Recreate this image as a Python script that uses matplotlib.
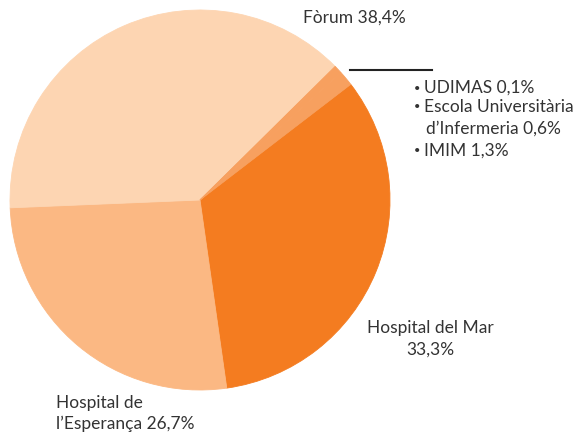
import matplotlib.pyplot as plt

plt.rcParams['font.family'] = ['Lato', 'DejaVu Sans']

labels = ['Hospital del Mar', "Hospital de l'Esperança", 'Fòrum', 'UDIMAS', 'Escola Universitària', 'IMIM']
values = [33.3, 26.7, 38.4, 0.1, 0.6, 1.3]
colors = ['#f47c20', '#fbb883', '#fdd5b2', '#f7a05f', '#f7a05f', '#f7a05f']

W, H = 585, 434
fig = plt.figure(figsize=(W / 100, H / 100), dpi=100)

# pie centred at (200, 200) px, radius 190 px
cx, cy, r = 200, 200, 190
ax = fig.add_axes([(cx - r) / W, (H - cy - r) / H, 2 * r / W, 2 * r / H])
wedges, _ = ax.pie(values, colors=colors, startangle=37.5, counterclock=False,
                   wedgeprops=dict(linewidth=0.6))
for w in wedges:
    w.set_edgecolor(w.get_facecolor())
ax.set_xlim(-1, 1)
ax.set_ylim(-1, 1)
ax.set_aspect('equal')
ax.axis('off')

txt = '#333333'
fs = 12.5


def px(x, y):
    return x / W, 1 - y / H


fig.text(*px(303, 18), 'Fòrum 38,4%', color=txt, fontsize=fs, va='center', ha='left')
fig.text(*px(430, 328), 'Hospital del Mar', color=txt, fontsize=fs, va='center', ha='center')
fig.text(*px(430, 350), '33,3%', color=txt, fontsize=fs, va='center', ha='center')
fig.text(*px(56, 403), 'Hospital de', color=txt, fontsize=fs, va='center', ha='left')
fig.text(*px(56, 424), "l’Esperança 26,7%", color=txt, fontsize=fs, va='center', ha='left')

fig.add_artist(plt.Line2D([350 / W, 432 / W], [1 - 70 / H, 1 - 70 / H],
                          color='#222222', linewidth=1.5))
fig.text(*px(414, 88), '•', color=txt, fontsize=8, va='center', ha='left')
fig.text(*px(424, 88), 'UDIMAS 0,1%', color=txt, fontsize=fs, va='center', ha='left')
fig.text(*px(414, 107), '•', color=txt, fontsize=8, va='center', ha='left')
fig.text(*px(424, 107), 'Escola Universitària', color=txt, fontsize=fs, va='center', ha='left')
fig.text(*px(426, 129), "d’Infermeria 0,6%", color=txt, fontsize=fs, va='center', ha='left')
fig.text(*px(414, 151), '•', color=txt, fontsize=8, va='center', ha='left')
fig.text(*px(424, 151), 'IMIM 1,3%', color=txt, fontsize=fs, va='center', ha='left')

fig.savefig('out.png', dpi=100)
